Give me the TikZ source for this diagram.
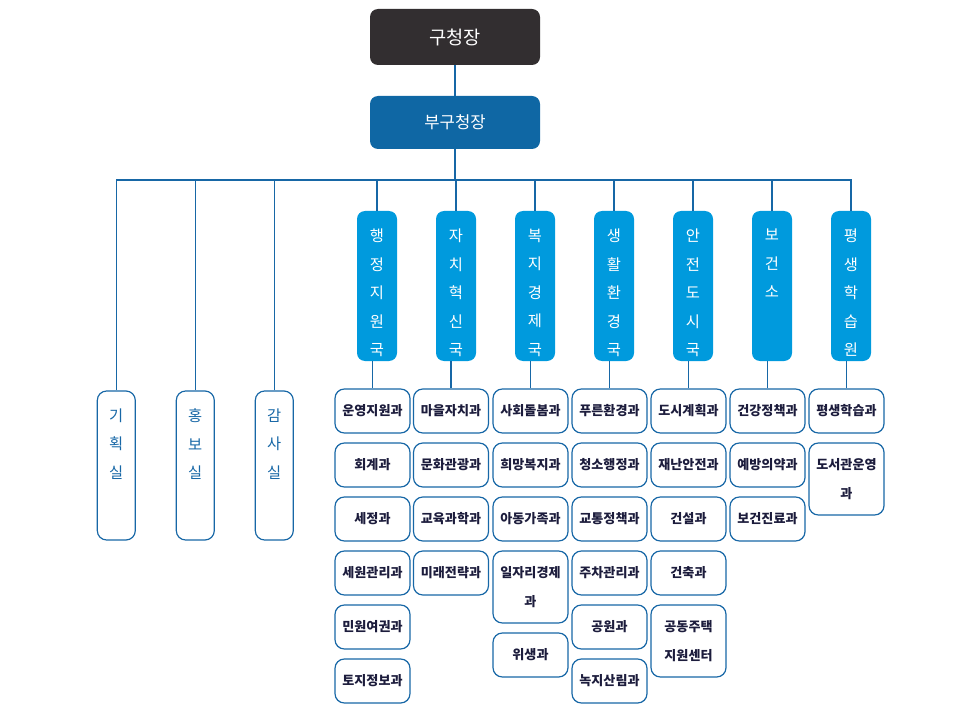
\documentclass[tikz,border=0pt]{standalone}
\usepackage{fontspec}
\setmainfont{Noto Sans CJK KR}
\usetikzlibrary{positioning}
\definecolor{chiefgray}{HTML}{322E30}
\definecolor{viceblue}{HTML}{0F67A4}
\definecolor{bureaublue}{HTML}{009ADD}
\definecolor{lineblue}{HTML}{1767A6}
\definecolor{deptnavy}{HTML}{1C1C3C}
\begin{document}
\begin{tikzpicture}
        [x=0.75pt, y=-0.75pt,
        node distance=6.6pt,
        link/.style={draw=lineblue, line width=0.9pt},
        head/.style={fill=#1, text=white, rounded corners=6pt, minimum width=127.5pt, inner sep=0pt},
        bureau/.style={fill=bureaublue, rounded corners=6pt, minimum width=30pt, minimum height=112.5pt, inner sep=0pt},
        office/.style={draw=lineblue, line width=0.9pt, rounded corners=7pt, minimum width=28.5pt, minimum height=111.75pt, inner sep=0pt},
        vtext/.style={anchor=north, align=center, inner sep=0pt, yshift=-13.5pt, font=\fontsize{11.5}{21.4}\selectfont},
        dept/.style={draw=lineblue, line width=0.9pt, rounded corners=7pt, text=deptnavy, minimum width=56.25pt, minimum height=33pt, inner sep=1pt, align=center, font=\bfseries\fontsize{9.8}{21.75}\selectfont},
        dept2/.style={dept, minimum height=54pt}]
        \useasboundingbox (0,0) rectangle (957,706);
        %Spitze
        \node [head=chiefgray, minimum height=42pt, font=\fontsize{14}{16}\selectfont] (chief) at (455,37) {구청장};
        \node [head=viceblue, minimum height=39.75pt, font=\fontsize{12.5}{15}\selectfont] (vice) at (455,122.5) {부구청장};
        \coordinate (hub) at (455,180);
        %Stabsstellen
        \node [office, label={[vtext, text=lineblue]north:기\\획\\실}] (k1) at (116.3,465.5) {};
        \node [office, label={[vtext, text=lineblue]north:홍\\보\\실}] (k2) at (195.3,465.5) {};
        \node [office, label={[vtext, text=lineblue]north:감\\사\\실}] (k3) at (274.3,465.5) {};
        %Bureaus
        \node [bureau, label={[vtext, text=white]north:행\\정\\지\\원\\국}] (b1) at (377,286) {};
        \node [bureau, label={[vtext, text=white]north:자\\치\\혁\\신\\국}] (b2) at (456,286) {};
        \node [bureau, label={[vtext, text=white]north:복\\지\\경\\제\\국}] (b3) at (535,286) {};
        \node [bureau, label={[vtext, text=white]north:생\\활\\환\\경\\국}] (b4) at (614,286) {};
        \node [bureau, label={[vtext, text=white]north:안\\전\\도\\시\\국}] (b5) at (693,286) {};
        \node [bureau, label={[vtext, text=white]north:보\\건\\소}] (b6) at (772,286) {};
        \node [bureau, label={[vtext, text=white]north:평\\생\\학\\습\\원}] (b7) at (851,286) {};
        %Abteilungen
        \node [dept] (d11) at (372.5,411) {운영지원과};
        \node [dept, below=of d11] (d12) {회계과};
        \node [dept, below=of d12] (d13) {세정과};
        \node [dept, below=of d13] (d14) {세원관리과};
        \node [dept, below=of d14] (d15) {민원여권과};
        \node [dept, below=of d15] (d16) {토지정보과};
        \node [dept] (d21) at (451,411) {마을자치과};
        \node [dept, below=of d21] (d22) {문화관광과};
        \node [dept, below=of d22] (d23) {교육과학과};
        \node [dept, below=of d23] (d24) {미래전략과};
        \node [dept] (d31) at (530.5,411) {사회돌봄과};
        \node [dept, below=of d31] (d32) {희망복지과};
        \node [dept, below=of d32] (d33) {아동가족과};
        \node [dept2, below=of d33] (d34) {일자리경제\\과};
        \node [dept, below=of d34] (d35) {위생과};
        \node [dept] (d41) at (609.5,411) {푸른환경과};
        \node [dept, below=of d41] (d42) {청소행정과};
        \node [dept, below=of d42] (d43) {교통정책과};
        \node [dept, below=of d43] (d44) {주차관리과};
        \node [dept, below=of d44] (d45) {공원과};
        \node [dept, below=of d45] (d46) {녹지산림과};
        \node [dept] (d51) at (688.5,411) {도시계획과};
        \node [dept, below=of d51] (d52) {재난안전과};
        \node [dept, below=of d52] (d53) {건설과};
        \node [dept, below=of d53] (d54) {건축과};
        \node [dept2, below=of d54] (d55) {공동주택\\지원센터};
        \node [dept] (d61) at (767.5,411) {건강정책과};
        \node [dept, below=of d61] (d62) {예방의약과};
        \node [dept, below=of d62] (d63) {보건진료과};
        \node [dept] (d71) at (846.5,411) {평생학습과};
        \node [dept2, below=of d71] (d72) {도서관운영\\과};
        %Verbindungen
        \draw [link] (chief) -- (vice);
        \draw [link] (vice) -- (hub);
        \draw [link] (k1.north) |- (hub) -| (b7.north);
        \draw [link] (k2.north) -- (k2.north |- hub);
        \draw [link] (k3.north) -- (k3.north |- hub);
        \draw [link] (b1.north) -- (b1.north |- hub);
        \draw [link] (b2.north) -- (b2.north |- hub);
        \draw [link] (b3.north) -- (b3.north |- hub);
        \draw [link] (b4.north) -- (b4.north |- hub);
        \draw [link] (b5.north) -- (b5.north |- hub);
        \draw [link] (b6.north) -- (b6.north |- hub);
        \draw [link] (d11) -- (d11 |- b1.south);
        \draw [link] (d21) -- (d21 |- b2.south);
        \draw [link] (d31) -- (d31 |- b3.south);
        \draw [link] (d41) -- (d41 |- b4.south);
        \draw [link] (d51) -- (d51 |- b5.south);
        \draw [link] (d61) -- (d61 |- b6.south);
        \draw [link] (d71) -- (d71 |- b7.south);
\end{tikzpicture}
\end{document}
